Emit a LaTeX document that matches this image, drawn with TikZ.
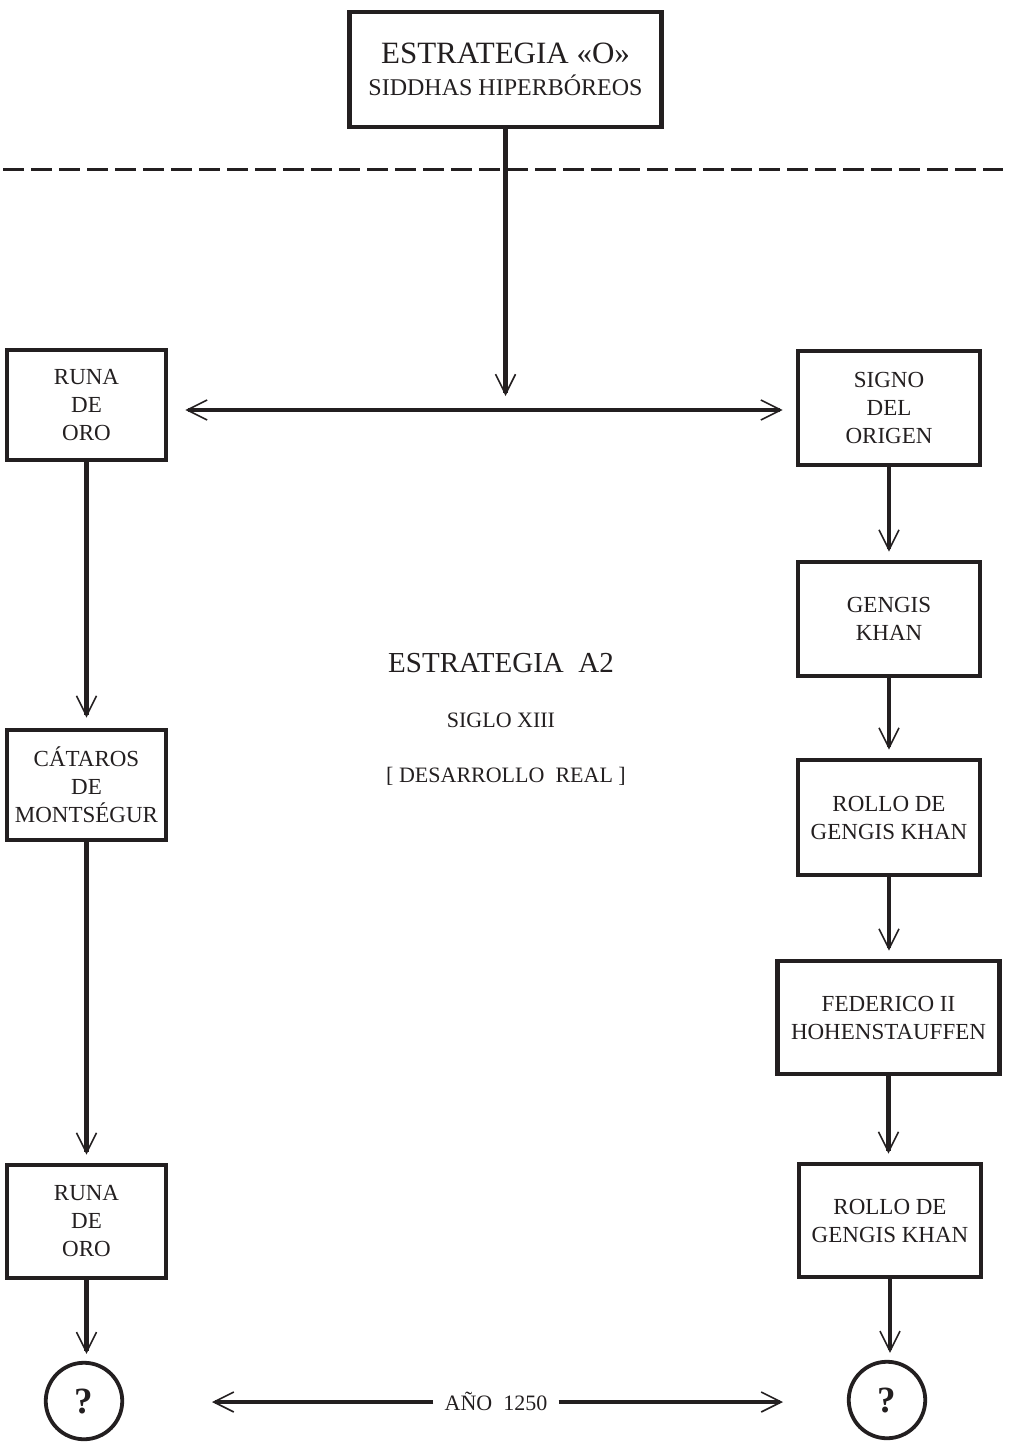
\documentclass[tikz,border=0pt]{standalone}
\usepackage{fontspec}
\setmainfont{Liberation Serif}
\usetikzlibrary{arrows.meta}
\definecolor{ink}{RGB}{35,31,32}
\begin{document}
\begin{tikzpicture}[x=1pt,y=-1pt,
  box/.style={draw=ink, line width=4.8pt, rectangle, inner sep=0pt, align=center,
    text=ink, font=\fontsize{23}{28}\selectfont},
  qcirc/.style={draw=ink, line width=3.8pt, circle, minimum size=76.5pt, inner sep=0pt,
    text=ink, font=\bfseries\fontsize{37}{37}\selectfont},
  barb/.tip={Straight Barb[length=20pt,width=20pt,line width=1.6pt]},
  conn/.style={draw=ink, line width=4.5pt, -barb, shorten >=8pt},
  hconn/.style={draw=ink, line width=4pt, barb-barb},
  lbl/.style={text=ink, inner sep=0pt, anchor=base}
]
\useasboundingbox (0,0) rectangle (1009,1444);

% dashed separator
\draw[ink, line width=3pt, dash pattern=on 21pt off 7pt] (3,169) -- (1003,169);

% top box
\node[box, minimum width=312pt, minimum height=115pt, font=\fontsize{24}{32}\selectfont]
  (top) at (505.5,69.5) {{\fontsize{31}{32}\selectfont ESTRATEGIA «O»}\\SIDDHAS HIPERBÓREOS};

% left column
\node[box, minimum width=159pt, minimum height=110pt] (runa1) at (86.5,405) {RUNA\\DE\\ORO};
\node[box, minimum width=159pt, minimum height=110pt] (cat) at (86.5,785) {CÁTAROS\\DE\\MONTSÉGUR};
\node[box, minimum width=159pt, minimum height=113pt] (runa2) at (86.5,1221.5) {RUNA\\DE\\ORO};
\node[qcirc] (q1) at (84,1401) {?};

% right column
\node[box, minimum width=182pt, minimum height=114pt] (signo) at (889,408) {SIGNO\\DEL\\ORIGEN};
\node[box, minimum width=182pt, minimum height=114pt] (gengis) at (889,619) {GENGIS\\KHAN};
\node[box, minimum width=182pt, minimum height=115pt] (rollo1) at (889,817.5) {ROLLO DE\\GENGIS KHAN};
\node[box, minimum width=222pt, minimum height=113pt] (fed) at (888.5,1017.5) {FEDERICO II\\HOHENSTAUFFEN};
\node[box, minimum width=182pt, minimum height=113pt] (rollo2) at (890,1220.5) {ROLLO DE\\GENGIS KHAN};
\node[qcirc] (q2) at (887,1400) {?};

% centre labels
\node[lbl, font=\fontsize{29}{32}\selectfont] (a2) at (501,672) {ESTRATEGIA\ \ A2};
\node[lbl, font=\fontsize{22}{26}\selectfont] (siglo) at (501,727) {SIGLO XIII};
\node[lbl, font=\fontsize{22}{26}\selectfont] (des) at (506,782) {[ DESARROLLO\ \ REAL ]};

% bottom label
\node[text=ink, font=\fontsize{22}{26}\selectfont, text height=16pt, text depth=0pt,
  inner xsep=11pt, inner ysep=0pt] (ano) at (496,1402) {AÑO\ \ 1250};
\coordinate (aL) at (212,1402);
\coordinate (aR) at (783,1402);

% connectors
\coordinate (vtip) at (505.5,396);
\coordinate (hmid) at (505,410);
\draw[conn, shorten >=0pt] (top.south) -- (vtip);
\draw[hconn, shorten <=17pt, shorten >=13pt] (runa1.east |- hmid) -- (signo.west |- hmid);

\draw[conn, shorten >=10pt] (runa1.south) -- (runa1.south |- cat.north);
\draw[conn, shorten >=8pt] (cat.south) -- (cat.south |- runa2.north);
\draw[conn, shorten >=7pt] (runa2.south) -- (runa2.south |- q1.north);

\draw[conn] (signo.south) -- (signo.south |- gengis.north);
\draw[conn] (gengis.south) -- (gengis.south |- rollo1.north);
\draw[conn] (rollo1.south) -- (rollo1.south |- fed.north);
\draw[conn] (fed.south) -- (fed.south |- rollo2.north);
\draw[conn, shorten >=7pt] (rollo2.south) -- (rollo2.south |- q2.north);

\draw[hconn, -barb] (ano.west) -- (aL);
\draw[hconn, -barb] (ano.east) -- (aR);
\end{tikzpicture}
\end{document}
